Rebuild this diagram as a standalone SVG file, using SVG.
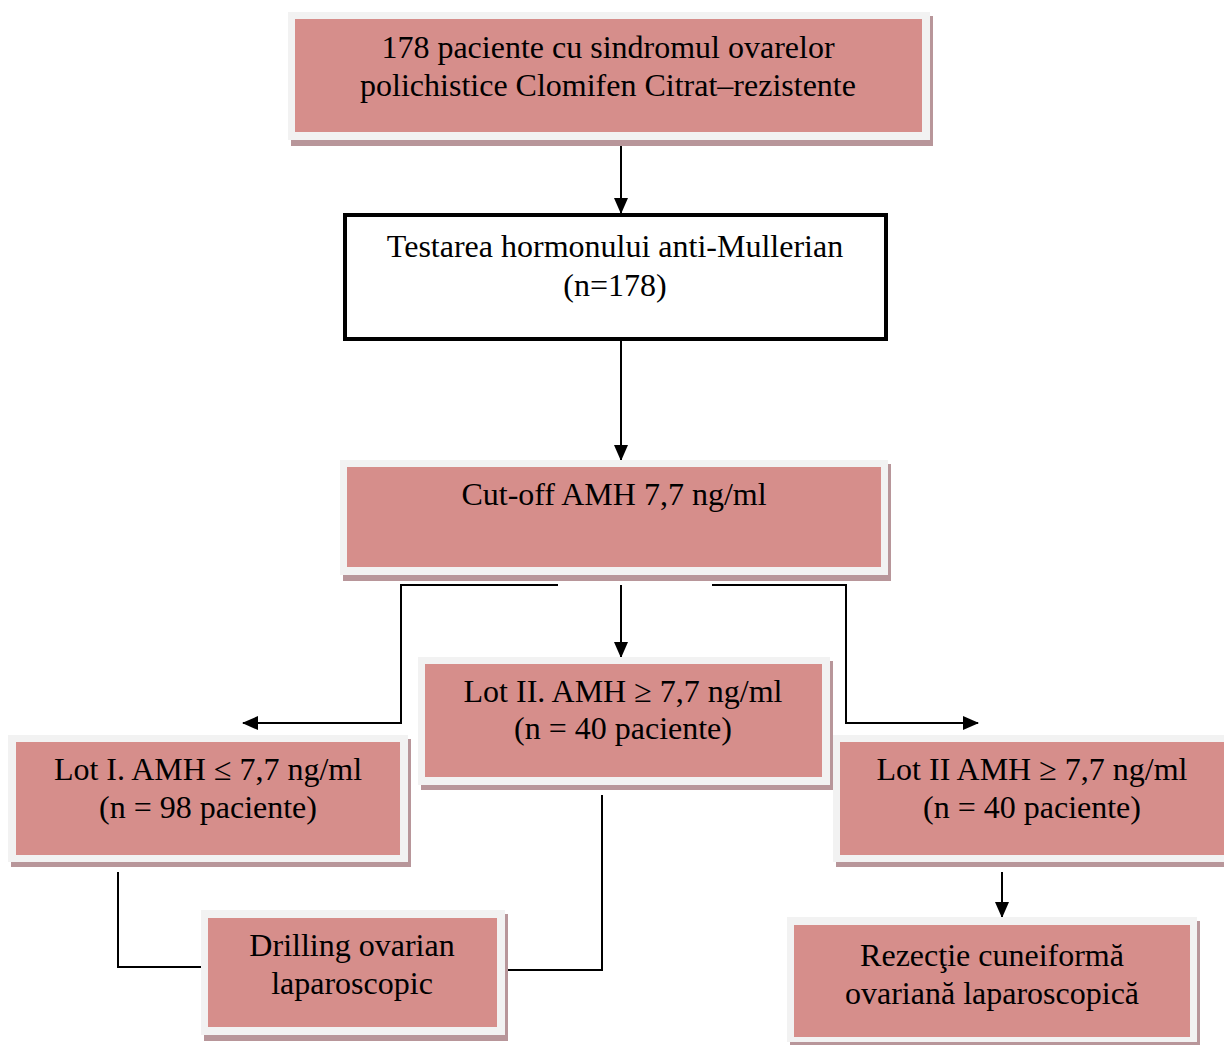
<svg xmlns="http://www.w3.org/2000/svg" width="1224" height="1045" viewBox="0 0 1224 1045">
<defs>
<style>
.sh{fill:#b8969a}
.bd{fill:#f2f2f2}
.pk{fill:#d68e8b}
.t{font-family:"Liberation Serif","Times New Roman",serif;font-size:32px;fill:#000;text-anchor:middle}
.c{fill:none;stroke:#000;stroke-width:2}
</style>
<marker id="ah" markerUnits="userSpaceOnUse" markerWidth="16" markerHeight="14" refX="15" refY="7" orient="auto">
<path d="M0,0 L16,7 L0,14 Z" fill="#000"/>
</marker>
</defs>
<rect width="1224" height="1045" fill="#fff"/>
<g id="connectors">
<path class="c" d="M621,137 V213" marker-end="url(#ah)"/>
<path class="c" d="M621,340 V460" marker-end="url(#ah)"/>
<path class="c" d="M558,585 H401 V723 H243" marker-end="url(#ah)"/>
<path class="c" d="M621,585 V657" marker-end="url(#ah)"/>
<path class="c" d="M712,585 H846 V723 H978" marker-end="url(#ah)"/>
<path class="c" d="M118,872 V967 H203"/>
<path class="c" d="M602,795 V970 H503"/>
<path class="c" d="M1002,872 V917" marker-end="url(#ah)"/>
</g>
<g id="n1">
<rect class="sh" x="291" y="16" width="642" height="130"/>
<rect class="bd" x="288" y="12" width="642" height="128"/>
<rect class="pk" x="295" y="19" width="627" height="113"/>
<text class="t" x="608" y="58">178 paciente cu sindromul ovarelor</text>
<text class="t" x="608" y="96">polichistice Clomifen Citrat–rezistente</text>
</g>
<g id="n2">
<rect x="345" y="215" width="541" height="124" fill="#fff" stroke="#000" stroke-width="4"/>
<text class="t" x="615" y="257">Testarea hormonului anti-Mullerian</text>
<text class="t" x="615" y="296">(n=178)</text>
</g>
<g id="n3">
<rect class="sh" x="343" y="464" width="548" height="117"/>
<rect class="bd" x="340" y="460" width="548" height="115"/>
<rect class="pk" x="347" y="467" width="534" height="100"/>
<text class="t" x="614" y="505">Cut-off AMH 7,7 ng/ml</text>
</g>
<g id="n4">
<rect class="sh" x="421" y="661" width="412" height="129"/>
<rect class="bd" x="418" y="657" width="412" height="128"/>
<rect class="pk" x="425" y="664" width="397" height="113"/>
<text class="t" x="623" y="702">Lot II. AMH ≥ 7,7 ng/ml</text>
<text class="t" x="623" y="739">(n = 40 paciente)</text>
</g>
<g id="n5">
<rect class="sh" x="11" y="739" width="400" height="128"/>
<rect class="bd" x="8" y="735" width="400" height="127"/>
<rect class="pk" x="16" y="742" width="384" height="113"/>
<text class="t" x="208" y="780">Lot I. AMH ≤ 7,7 ng/ml</text>
<text class="t" x="208" y="818">(n = 98 paciente)</text>
</g>
<g id="n6">
<rect class="sh" x="836" y="739" width="400" height="128"/>
<rect class="bd" x="833" y="735" width="400" height="127"/>
<rect class="pk" x="840" y="742" width="384" height="113"/>
<text class="t" x="1032" y="780">Lot II AMH ≥ 7,7 ng/ml</text>
<text class="t" x="1032" y="818">(n = 40 paciente)</text>
</g>
<g id="n7">
<rect class="sh" x="204" y="914" width="304" height="127"/>
<rect class="bd" x="201" y="910" width="304" height="125"/>
<rect class="pk" x="208" y="918" width="289" height="109"/>
<text class="t" x="352" y="956">Drilling ovarian</text>
<text class="t" x="352" y="994">laparoscopic</text>
</g>
<g id="n8">
<rect class="sh" x="790" y="921" width="410" height="126"/>
<rect class="bd" x="787" y="917" width="410" height="125"/>
<rect class="pk" x="794" y="925" width="396" height="112"/>
<text class="t" x="992" y="966">Rezecţie cuneiformă</text>
<text class="t" x="992" y="1004">ovariană laparoscopică</text>
</g>
</svg>
